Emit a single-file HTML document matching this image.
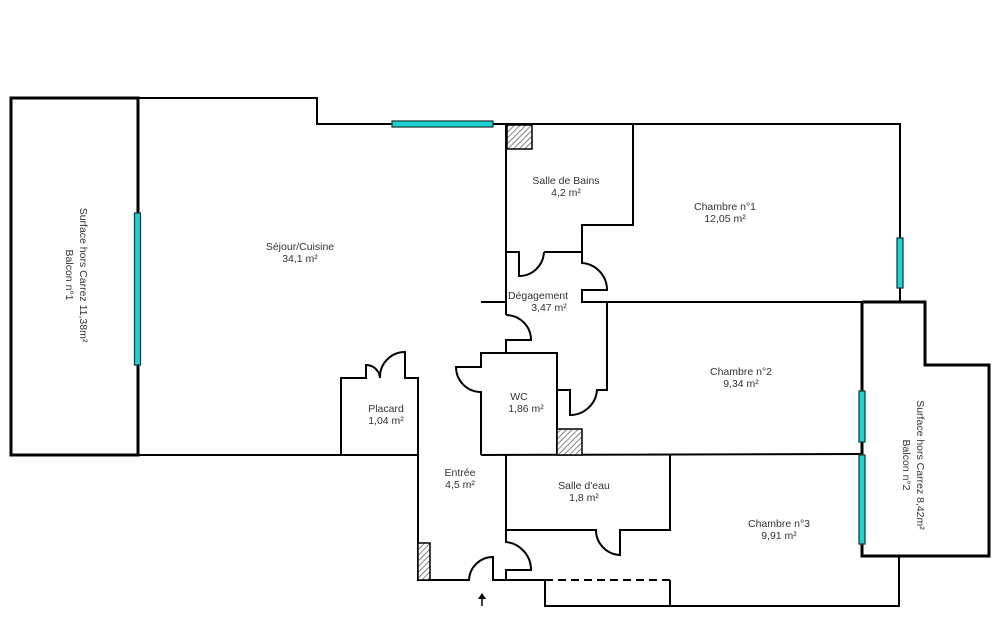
<!DOCTYPE html>
<html><head><meta charset="utf-8"><style>
html,body{margin:0;padding:0;background:#fff;width:1000px;height:628px;overflow:hidden}
svg{display:block}
text{font-family:"Liberation Sans",sans-serif;font-size:10.5px;fill:#333;text-anchor:middle}
</style></head><body>
<svg width="1000" height="628" viewBox="0 0 1000 628">
<defs><pattern id="h" width="4" height="4" patternUnits="userSpaceOnUse" patternTransform="rotate(45)"><rect width="4" height="4" fill="#fff"/><line x1="0" y1="0" x2="0" y2="4" stroke="#444" stroke-width="1.3"/></pattern></defs>
<g fill="none" stroke="#000" stroke-width="2">
<!-- balcon 1 -->
<rect x="11" y="98" width="127" height="357" stroke-width="3"/>
<!-- top walls -->
<polyline points="138,98 317,98 317,124 900,124 900,302"/>
<line x1="138" y1="455" x2="341" y2="455"/>
<!-- balcon 2 -->
<polyline points="862,302 925,302 925,365 989,365 989,556 862,556 862,302" stroke-width="3"/>
<line x1="862" y1="302" x2="862" y2="556"/>
<polyline points="899,556 899,606 545,606 545,580"/>
<line x1="670" y1="580" x2="670" y2="606"/>
<line x1="545" y1="580" x2="670" y2="580" stroke-dasharray="8,5"/>
<!-- salle de bains -->
<polyline points="633,124 633,225 582,225 582,252 544,252"/>
<path d="M544,252 A25,25 0 0 1 519,276 L519,252 L506,252"/>
<line x1="506" y1="124" x2="506" y2="315"/>
<path d="M582,252 L582,263 A27,27 0 0 1 607,290 L582,290 L582,302 L862,302"/>
<line x1="481" y1="302" x2="506" y2="302"/>
<path d="M506,315 A25,25 0 0 1 531,340 L506,340 L506,353"/>
<!-- WC -->
<path d="M481,455 L481,392 A25,25 0 0 1 456,367 L481,367 L481,353 L557,353 L557,455"/>
<path d="M607,302 L607,390 L597,390 A27,27 0 0 1 570,415 L570,390 L557,390"/>
<line x1="481" y1="455" x2="862" y2="454"/>
<!-- placard -->
<path d="M341,455 L341,378 L366,378 L366,365 A14,14 0 0 1 380,378 A25,25 0 0 1 405,352 L405,378 L418,378 L418,580 L469,580 A24,24 0 0 1 493,557 L493,580 L506,580 L506,570 L531,570 A28,28 0 0 0 506,542 L506,455"/>
<line x1="341" y1="455" x2="418" y2="455"/>
<!-- salle d'eau -->
<path d="M506,530 L596,530 A25,25 0 0 0 620,555 L620,530 L670,530 L670,455"/>
<polyline points="506,580 545,580"/>
</g>
<!-- hatched -->
<rect x="507" y="125" width="25" height="24" fill="url(#h)" stroke="#000" stroke-width="1.5"/>
<rect x="557" y="429" width="25" height="26" fill="url(#h)" stroke="#000" stroke-width="1.5"/>
<rect x="418" y="543" width="12" height="37" fill="url(#h)" stroke="#000" stroke-width="1.5"/>
<!-- windows -->
<g fill="#1fd3d3" stroke="#1a4040" stroke-width="1.3">
<rect x="134.5" y="213" width="6" height="152"/>
<rect x="392" y="121" width="101" height="6"/>
<rect x="897" y="238" width="6" height="50"/>
<rect x="859" y="391" width="6" height="51"/>
<rect x="859" y="455" width="6" height="89"/>
</g>
<!-- arrow -->
<path d="M482,606 L482,597" stroke="#000" stroke-width="1.5"/>
<path d="M478,599 L482,593 L486,599 Z" fill="#000"/>
<!-- labels -->
<text x="300" y="250">Séjour/Cuisine</text><text x="300" y="262">34,1  m²</text>
<text x="566" y="184">Salle de Bains</text><text x="566" y="196">4,2  m²</text>
<text x="725" y="210">Chambre n°1</text><text x="725" y="222">12,05  m²</text>
<text x="538" y="299">Dégagement</text><text x="549" y="311">3,47  m²</text>
<text x="741" y="375">Chambre n°2</text><text x="741" y="387">9,34  m²</text>
<text x="386" y="412">Placard</text><text x="386" y="424">1,04  m²</text>
<text x="519" y="400">WC</text><text x="526" y="412">1,86  m²</text>
<text x="460" y="476">Entrée</text><text x="460" y="488">4,5  m²</text>
<text x="584" y="489">Salle d'eau</text><text x="584" y="501">1,8  m²</text>
<text x="779" y="527">Chambre n°3</text><text x="779" y="539">9,91  m²</text>
<text transform="translate(80,275) rotate(90)">Surface hors Carrez  11,38m²</text>
<text transform="translate(66,275) rotate(90)">Balcon n°1</text>
<text transform="translate(917,465) rotate(90)">Surface hors Carrez  8,42m²</text>
<text transform="translate(903,465) rotate(90)">Balcon n°2</text>
</svg>
</body></html>
